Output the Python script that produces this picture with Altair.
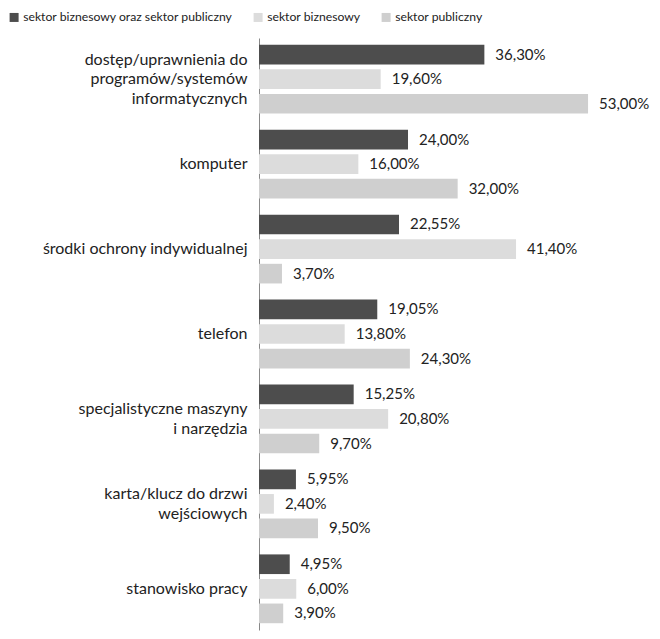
import altair as alt
import pandas as pd

categories = [
    "dostęp/uprawnienia do\nprogramów/systemów\ninformatycznych",
    "komputer",
    "środki ochrony indywidualnej",
    "telefon",
    "specjalistyczne maszyny\ni narzędzia",
    "karta/klucz do drzwi\nwejściowych",
    "stanowisko pracy",
]
series = ["sektor biznesowy oraz sektor publiczny", "sektor biznesowy", "sektor publiczny"]
v_both = [36.30, 24.00, 22.55, 19.05, 15.25, 5.95, 4.95]
v_biz = [19.60, 16.00, 41.40, 13.80, 20.80, 2.40, 6.00]
v_pub = [53.00, 32.00, 3.70, 24.30, 9.70, 9.50, 3.90]
colors = ["#4d4d4d", "#dcdcdc", "#cfcfcf"]

rows = []
for s, vals in zip(series, [v_both, v_biz, v_pub]):
    for c, v in zip(categories, vals):
        rows.append({"cat": c, "series": s, "value": v,
                     "label": f"{v:.2f}".replace(".", ",") + "%"})
df = pd.DataFrame(rows)

FONT = "Lato"
TXT = "#222222"
LEFT = 251
LH = 19.5

label_offset = {
    "condition": [
        {"test": "length(split(datum.value, '\\n')) == 3", "value": -LH},
        {"test": "length(split(datum.value, '\\n')) == 2", "value": -LH / 2},
    ],
    "value": 0,
}

y = alt.Y("cat:N", sort=categories, title=None,
          scale=alt.Scale(paddingInner=0.19, paddingOuter=0.08),
          axis=alt.Axis(labelExpr="split(datum.label, '\\n')", ticks=False,
                        labelPadding=12, labelOffset=label_offset,
                        labelFontSize=16, labelColor=TXT, labelFont=FONT,
                        labelLineHeight=LH, domainColor="#888", labelLimit=300))
yoff = alt.YOffset("series:N", sort=series, scale=alt.Scale(paddingInner=0.2))

base = alt.Chart(df)
bars = base.mark_bar().encode(
    y=y, yOffset=yoff,
    x=alt.X("value:Q", scale=alt.Scale(domain=[0, 63.3], nice=False), axis=None),
    color=alt.Color("series:N", sort=series,
                    scale=alt.Scale(domain=series, range=colors),
                    legend=alt.Legend(title=None, orient="none", direction="horizontal",
                                      legendX=-LEFT, legendY=-27, symbolType="square",
                                      symbolSize=81, symbolStrokeWidth=0,
                                      labelFontSize=12.2, labelFont=FONT, labelColor=TXT,
                                      columnPadding=19, labelOffset=3, labelLimit=400)),
)
texts = base.mark_text(align="left", dx=11, fontSize=15, font=FONT, color=TXT).encode(
    y=y, yOffset=yoff, x="value:Q", text="label:N")

chart = (bars + texts).properties(
    width=393, height=592,
    autosize=alt.AutoSizeParams(type="none"),
    padding={"top": 30, "left": LEFT, "right": 0, "bottom": 1},
).configure_view(stroke=None)
chart.save("out.html", embed_options={"renderer": "svg", "actions": False})
